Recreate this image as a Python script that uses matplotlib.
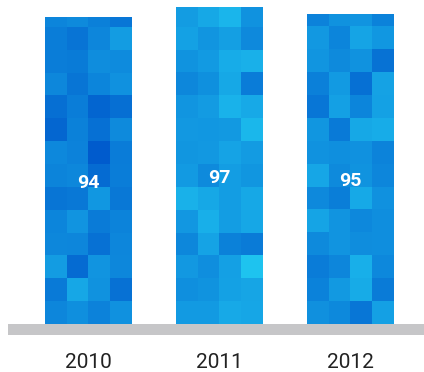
import numpy as np
import matplotlib
matplotlib.use("Agg")
import matplotlib.pyplot as plt
from matplotlib.colors import to_rgb

years = ["2010", "2011", "2012"]
values = [94, 97, 95]

# mosaic texture: blend between a deep blue and a light cyan
deep = np.array(to_rgb("#0058cc"))
light = np.array(to_rgb("#22d0f4"))
tile_h = 7.0   # data units per tile row
n_cols = 4
rng = np.random.default_rng(7)

fig = plt.figure(figsize=(4.24, 3.72), dpi=100)
ax = fig.add_axes([8 / 424, 1 - 335 / 372, 416 / 424, 335 / 372])

x = np.arange(len(years))
width = 0.664
bars = ax.bar(x, values, width=width, color="#0a8ae6", zorder=2)

for i, bar in enumerate(bars):
    n_rows = int(np.ceil(values[i] / tile_h))
    base = [0.38, 0.58, 0.5][i]
    t = np.clip(base + rng.normal(0, 0.14, size=(n_rows, n_cols)), 0, 1)
    img = deep[None, None, :] * (1 - t[..., None]) + light[None, None, :] * t[..., None]
    x0 = bar.get_x()
    im = ax.imshow(img[::-1], extent=(x0, x0 + width, 0, n_rows * tile_h),
                   origin="lower", interpolation="nearest", aspect="auto", zorder=3)
    im.set_clip_path(bar)
    ax.text(x[i], values[i] * 0.46, str(values[i]), ha="center", va="center",
            color="white", fontsize=14, fontweight="bold", family="Roboto", zorder=4)

ax.axhspan(-3.4, 0, color="#c6c6c8", zorder=1, lw=0)
ax.set_xlim(-0.611, 2.565)
ax.set_ylim(-3.4, 99.2)
ax.set_xticks(x)
ax.set_xticklabels(years, fontsize=15, family="Roboto", color="#222222")
ax.tick_params(axis="x", length=0, pad=13)
ax.set_yticks([])
for s in ax.spines.values():
    s.set_visible(False)

fig.savefig("out.png", dpi=100)
